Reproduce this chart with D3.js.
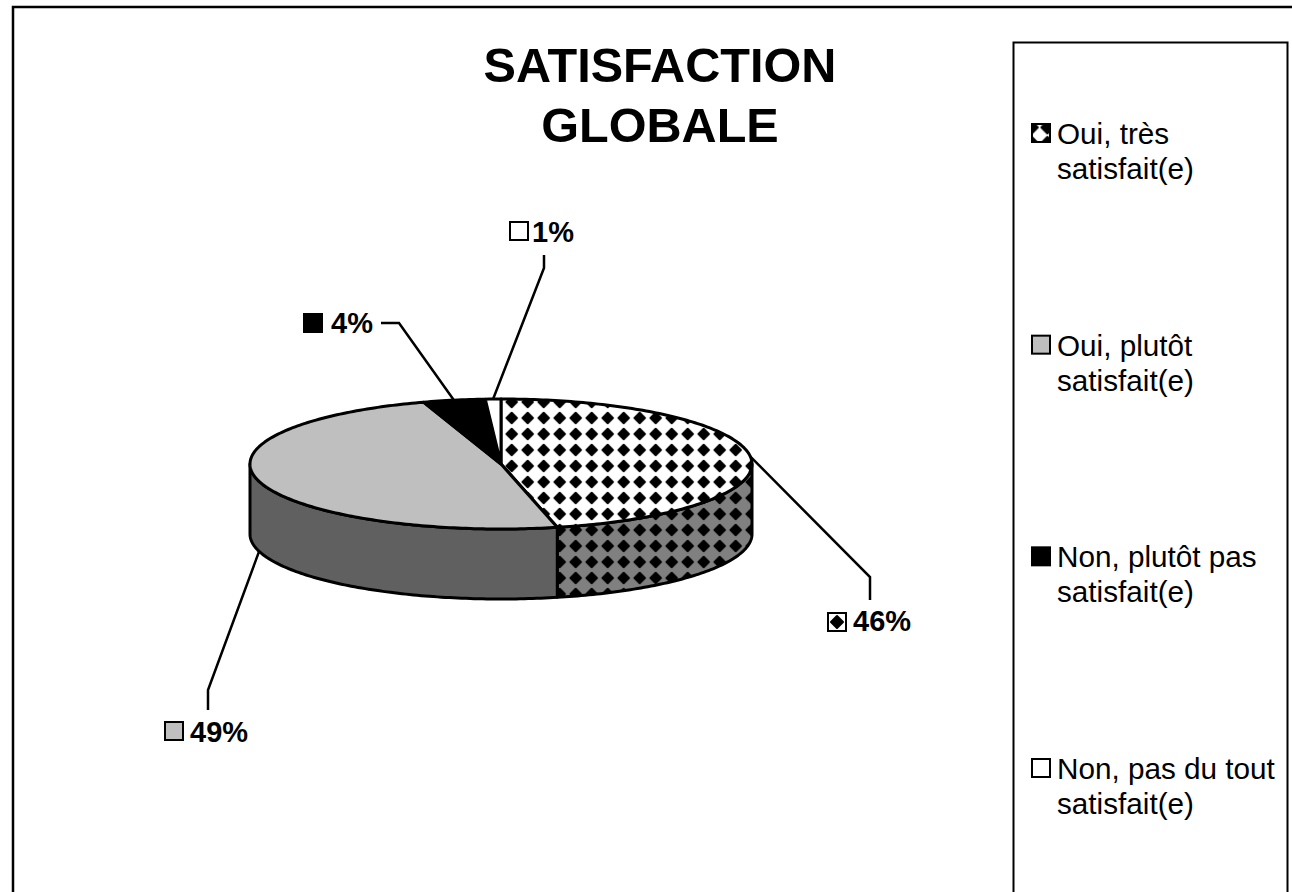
<!DOCTYPE html>
<html>
<head>
<meta charset="utf-8">
<script src="https://cdn.jsdelivr.net/npm/d3@7"></script>
<style>
  html, body { margin: 0; padding: 0; background: #fff; overflow: hidden; }
  text { font-family: "Liberation Sans", Arial, sans-serif; fill: #000; }
</style>
</head>
<body>
<svg id="chart" width="1292" height="892"></svg>
<script>
// Data
const titleLines = ["SATISFACTION", "GLOBALE"];
const categories = [
    ["Oui, très", "satisfait(e)"],
    ["Oui, plutôt", "satisfait(e)"],
    ["Non, plutôt pas", "satisfait(e)"],
    ["Non, pas du tout", "satisfait(e)"]
];
const values = [46.4, 48.6, 4, 1];

// Layout
const width = 1292, height = 892;
const center = {x: 501, y: 464};
const rx = 251, ry = 65, depth = 70;
const lineW = 3;

const topFills = ["url(#diamondsWhite)", "#bfbfbf", "#000", "#fff"];
const sideFills = ["url(#diamondsGray)", "#606060", "#000", "#fff"];
const swatchFills = ["url(#swatchLegend)", "#bfbfbf", "#000", "#fff"];

// elbow and end of each leader, then where its label sits
const leaders = [
    {elbow: [870, 577], end: [870, 600], box: [828, 613], text: [853, 631]},
    {elbow: [208, 690], end: [208, 710], box: [165, 722], text: [190, 742]},
    {elbow: [399, 323], end: [381, 323], box: [304, 314], text: [331, 333]},
    {elbow: [544, 268], end: [544, 255], box: [510, 222], text: [532, 242]}
];

const svg = d3.select("#chart");
const defs = svg.append("defs");

// Diamond hatch used by the first slice
function addDiamonds(id, bg, size, ox, oy, r) {
    const p = defs.append("pattern")
        .attr("id", id)
        .attr("patternUnits", "userSpaceOnUse")
        .attr("x", ox).attr("y", oy)
        .attr("width", size).attr("height", size);
    p.append("rect").attr("width", size).attr("height", size).attr("fill", bg);
    const c = size / 2;
    p.append("path")
        .attr("d", `M${c - r} ${c}L${c} ${c - r}L${c + r} ${c}L${c} ${c + r}Z`)
        .attr("fill", "#000")
        .attr("stroke", "#000")
        .attr("stroke-width", 2)
        .attr("stroke-linejoin", "round");
}
const cell = 16;
addDiamonds("diamondsWhite", "#fff", cell, 575.7 - cell / 2, 450 - cell / 2, 5.2);
addDiamonds("diamondsGray", "#808080", cell, 575.7 - cell / 2, 450 - cell / 2, 5.2);
addDiamonds("swatchLabel", "#fff", 18, 828, 613, 6);
addDiamonds("swatchLegend", "#fff", 15.6, 1024, 116, 6);

// Frames, both run off the bottom of the page
svg.append("path")
    .attr("d", `M13 ${height + 5}V7H${width + 5}`)
    .attr("fill", "none").attr("stroke", "#000").attr("stroke-width", 2.5);
svg.append("path")
    .attr("d", `M1013.5 ${height + 5}V42.5H1287.5V${height + 5}`)
    .attr("fill", "none").attr("stroke", "#000").attr("stroke-width", 2);

// Title
svg.append("g").selectAll("text")
    .data(titleLines)
    .join("text")
    .attr("x", 660)
    .attr("y", (d, i) => 82 + i * 59.7)
    .attr("text-anchor", "middle")
    .attr("font-size", 48.6)
    .attr("font-weight", "bold")
    .text(d => d);

// Pie: angles come from d3.pie, squashed on to an ellipse
const pie = d3.pie().sort(null).value(d => d);
const arcs = pie(values);
const px = a => center.x + rx * Math.sin(a);
const py = a => center.y - ry * Math.cos(a);

function arcPoints(a0, a1) {
    const n = Math.max(2, Math.ceil((a1 - a0) * 60));
    return d3.range(n + 1).map(i => a0 + (a1 - a0) * i / n);
}
const line = d3.line();

// Outer wall, only the front half of the disc shows
const wall = svg.append("g");
arcs.forEach((d, i) => {
    const a0 = Math.max(d.startAngle, Math.PI / 2);
    const a1 = Math.min(d.endAngle, Math.PI * 1.5);
    if (a1 <= a0) return;
    const upper = arcPoints(a0, a1).map(a => [px(a), py(a)]);
    const lower = upper.slice().reverse().map(p => [p[0], p[1] + depth]);
    wall.append("path")
        .attr("d", line(upper.concat(lower)) + "Z")
        .attr("fill", sideFills[i])
        .attr("stroke", "#000")
        .attr("stroke-width", lineW)
        .attr("stroke-linejoin", "round");
});

// Top face
svg.append("g").selectAll("path")
    .data(arcs)
    .join("path")
    .attr("d", d => {
        const pts = arcPoints(d.startAngle, d.endAngle).map(a => [px(a), py(a)]);
        return line([[center.x, center.y]].concat(pts)) + "Z";
    })
    .attr("fill", (d, i) => topFills[i])
    .attr("stroke", "#000")
    .attr("stroke-width", lineW)
    .attr("stroke-linejoin", "round");

// Leader lines start on the middle of each slice's rim
svg.append("g").selectAll("path")
    .data(arcs)
    .join("path")
    .attr("d", (d, i) => {
        const mid = (d.startAngle + d.endAngle) / 2;
        const onWall = Math.cos(mid) < 0 ? depth : 0;
        const start = [px(mid), py(mid) + onWall];
        return line([start, leaders[i].elbow, leaders[i].end]);
    })
    .attr("fill", "none")
    .attr("stroke", "#000")
    .attr("stroke-width", 2.5);

// Data labels
const labels = svg.append("g").selectAll("g")
    .data(values)
    .join("g");
labels.append("rect")
    .attr("x", (d, i) => leaders[i].box[0])
    .attr("y", (d, i) => leaders[i].box[1])
    .attr("width", 18).attr("height", 18)
    .attr("fill", (d, i) => i === 0 ? "url(#swatchLabel)" : swatchFills[i])
    .attr("stroke", "#000")
    .attr("stroke-width", 2);
labels.append("text")
    .attr("x", (d, i) => leaders[i].text[0])
    .attr("y", (d, i) => leaders[i].text[1])
    .attr("font-size", 29)
    .attr("font-weight", "bold")
    .text(d => Math.round(d) + "%");

// Legend
const legendY = d3.scaleLinear().domain([0, 3]).range([144, 779]);
const legend = svg.append("g").selectAll("g")
    .data(categories)
    .join("g")
    .attr("transform", (d, i) => `translate(0,${legendY(i)})`);
legend.append("rect")
    .attr("x", 1032).attr("y", -20)
    .attr("width", 18).attr("height", 18)
    .attr("fill", (d, i) => swatchFills[i])
    .attr("stroke", "#000")
    .attr("stroke-width", 2);
legend.selectAll("text")
    .data(d => d)
    .join("text")
    .attr("x", 1057)
    .attr("y", (d, i) => i * 35)
    .attr("font-size", 29.7)
    .text(d => d);
</script>
</body>
</html>
